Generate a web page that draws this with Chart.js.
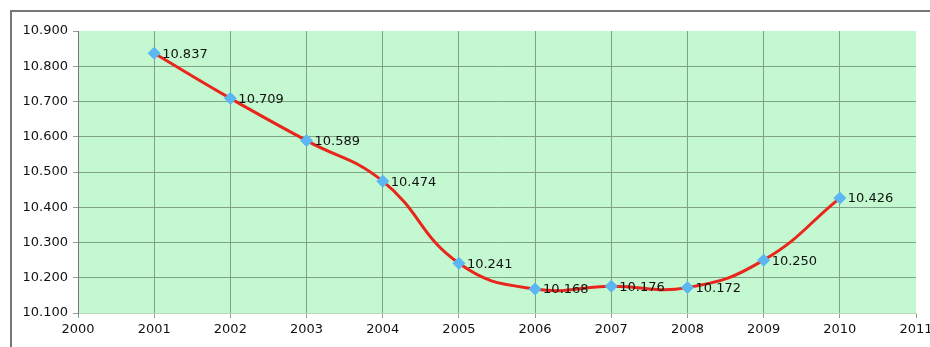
<!DOCTYPE html>
<html>
<head>
<meta charset="utf-8">
<script src="https://cdn.jsdelivr.net/npm/chart.js@4.4.1/dist/chart.umd.min.js"></script>
<style>
  html, body { margin: 0; padding: 0; background: #fff; }
  #wrap { width: 930px; height: 347px; position: relative; }
</style>
</head>
<body>
<div id="wrap"><canvas id="myChart" width="930" height="347"></canvas></div>
<script>
const years = [2001, 2002, 2003, 2004, 2005, 2006, 2007, 2008, 2009, 2010];
const values = [10.837, 10.709, 10.589, 10.474, 10.241, 10.168, 10.176, 10.172, 10.250, 10.426];
const yTicks = [10.1, 10.2, 10.3, 10.4, 10.5, 10.6, 10.7, 10.8, 10.9];
const xTicks = [2000, 2001, 2002, 2003, 2004, 2005, 2006, 2007, 2008, 2009, 2010, 2011];

const points = years.map((y, i) => ({ x: y, y: values[i] }));
const gridColor = '#7fa386';

// frame and green plot area
const background = {
    id: 'background',
    beforeDraw(chart) {
        const ctx = chart.ctx;
        const a = chart.chartArea;
        ctx.save();
        ctx.fillStyle = '#fff';
        ctx.fillRect(0, 0, chart.width, chart.height);
        ctx.strokeStyle = '#777';
        ctx.lineWidth = 2;
        ctx.strokeRect(11, 11, chart.width + 20, chart.height + 20);
        ctx.fillStyle = '#c4f8d0';
        ctx.fillRect(a.left, a.top, a.right - a.left, a.bottom - a.top);
        ctx.restore();
    }
};

// value labels right of each point
const valueLabels = {
    id: 'valueLabels',
    afterDatasetsDraw(chart) {
        const ctx = chart.ctx;
        const meta = chart.getDatasetMeta(0);
        ctx.save();
        ctx.font = '13px "DejaVu Sans"';
        ctx.fillStyle = '#111';
        ctx.textAlign = 'left';
        ctx.textBaseline = 'middle';
        meta.data.forEach((pt, i) => {
            ctx.fillText(values[i].toFixed(3), pt.x + 8, pt.y + 1);
        });
        ctx.restore();
    }
};

new Chart(document.getElementById('myChart'), {
    type: 'line',
    data: {
        datasets: [{
            data: points,
            borderColor: '#e8261c',
            borderWidth: 3,
            tension: 0.45,
            pointStyle: 'rectRot',
            pointRadius: 6,
            pointBackgroundColor: '#5cb6f2',
            pointBorderColor: '#5cb6f2',
            pointBorderWidth: 1
        }]
    },
    options: {
        responsive: false,
        animation: false,
        layout: { padding: { left: 0, right: 14, top: 31, bottom: 0 } },
        plugins: { legend: { display: false }, tooltip: { enabled: false } },
        scales: {
            x: {
                type: 'linear',
                min: 2000,
                max: 2011,
                afterBuildTicks: (s) => { s.ticks = xTicks.map(v => ({ value: v })); },
                afterFit: (s) => { s.height = 34; s.paddingLeft = 0; s.paddingRight = 0; },
                ticks: {
                    callback: (v) => String(v),
                    font: { family: 'DejaVu Sans', size: 13 },
                    color: '#111',
                    padding: 4,
                    maxRotation: 0
                },
                grid: {
                    color: (c) => c.tick && c.tick.value === 2011 ? 'rgba(0,0,0,0)' : gridColor,
                    tickLength: 5,
                    tickColor: gridColor
                },
                border: { color: '#bcd8c0' }
            },
            y: {
                min: 10.1,
                max: 10.9,
                afterBuildTicks: (s) => { s.ticks = yTicks.map(v => ({ value: v })); },
                afterFit: (s) => { s.width = 78; s.paddingTop = 0; s.paddingBottom = 0; },
                ticks: {
                    callback: (v) => Number(v).toFixed(3),
                    font: { family: 'DejaVu Sans', size: 13 },
                    color: '#111',
                    padding: 5
                },
                grid: {
                    color: (c) => c.tick && Math.abs(c.tick.value - 10.9) < 1e-6 ? 'rgba(0,0,0,0)' : gridColor,
                    tickLength: 5,
                    tickColor: '#999'
                },
                border: { color: '#777' }
            }
        }
    },
    plugins: [background, valueLabels]
});
</script>
</body>
</html>
